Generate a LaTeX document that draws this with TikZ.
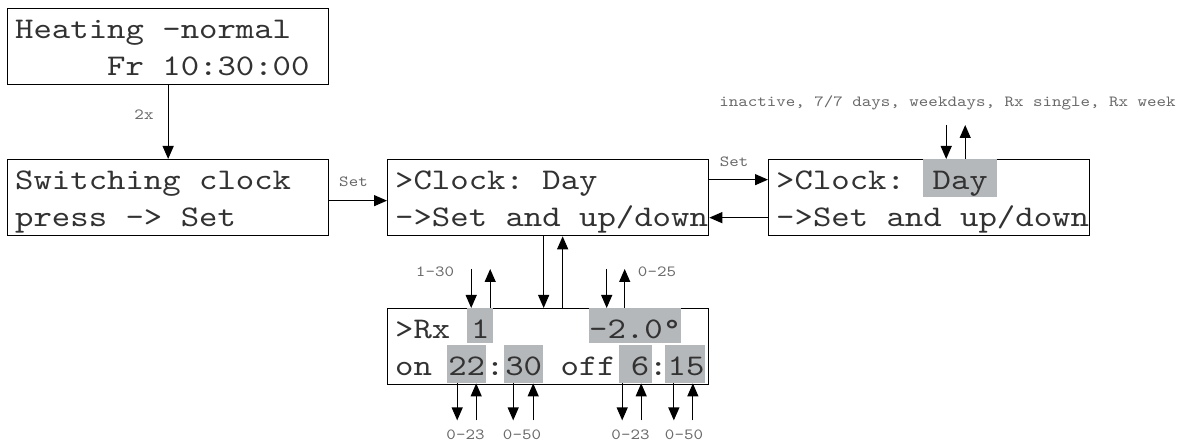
\documentclass[tikz,border=0pt]{standalone}
\usepackage{fontspec}
\usepackage{tikz}
\usetikzlibrary{arrows.meta,positioning}
\newfontfamily\lcdfam{lmmono10-regular.otf}[FakeStretch=1.168]
\newcommand\lcdfont{\lcdfam\fontsize{30}{36}\selectfont}
\newcommand\lblfont{\lcdfam\fontsize{15.5}{18}\selectfont}
\definecolor{hlgray}{RGB}{181,184,186}
\definecolor{lcdtext}{RGB}{50,50,50}
\definecolor{lblgray}{RGB}{105,105,105}

\begin{document}
\begin{tikzpicture}[
  x=1pt, y=1pt,
  lcdbox/.style={draw=black,line width=1.3pt,minimum width=321pt,minimum height=76pt,inner sep=0pt,anchor=north west},
  txt/.style={font=\lcdfont,text=lcdtext,inner sep=0pt,anchor=base west},
  field/.style={fill=hlgray,font=\lcdfont,text=lcdtext,inner sep=0pt,anchor=north west},
  lbl/.style={font=\lblfont,text=lblgray,inner sep=1pt},
  arr/.style={-{Triangle[length=13pt,width=11pt]},line width=1.2pt}
]
\useasboundingbox (0,0) rectangle (1186,-446);

% display boxes
\node[lcdbox] (lcd1) at (7,-8) {};
\node[lcdbox] (lcd2) at (7,-159) {};
\node[lcdbox] (menu) at (387,-159) {};
\node[lcdbox] (mode) at (768,-159) {};
\node[lcdbox] (rx) at (387,-308) {};

% highlighted fields
\node[field,minimum width=74pt,text height=30.5pt,text depth=7.5pt] (fday) at ([xshift=155pt]mode.north west) {Day};
\node[field,minimum width=26pt,text height=30pt,text depth=5pt] (fcyc) at (467,-308) {1};
\node[field,minimum width=91pt,text height=30pt,text depth=5pt] (ftemp) at (589,-308) {-2.0\textdegree};
\node[field,minimum width=39pt,text height=30.5pt,text depth=7.5pt] (fonh) at (447,-345) {22};
\node[field,minimum width=39pt,text height=30.5pt,text depth=7.5pt] (fonm) at (504,-345) {30};
\node[field,text width=33pt,align=right,text height=30.5pt,text depth=7.5pt] (foffh) at (619,-345) {6\hspace*{3pt}};
\node[field,minimum width=39pt,text height=30.5pt,text depth=7.5pt] (foffm) at (665,-345) {\hspace*{2.5pt}15};

% display texts
\node[txt] (t11) at ([xshift=8pt,yshift=-30.5pt]lcd1.north west) {Heating~-normal};
\node[txt] (t12) at ([xshift=8pt,yshift=-68pt]lcd1.north west) {~~~~~Fr~10:30:00};
\node[txt] (t21) at ([xshift=8pt,yshift=-30.5pt]lcd2.north west) {Switching~clock};
\node[txt] (t22) at ([xshift=8pt,yshift=-68pt]lcd2.north west) {press~->~Set};
\node[txt] (t31) at ([xshift=8pt,yshift=-30.5pt]menu.north west) {>Clock:~Day};
\node[txt] (t32) at ([xshift=8pt,yshift=-68pt]menu.north west) {->Set~and~up/down};
\node[txt] (t41) at ([xshift=8pt,yshift=-30.5pt]mode.north west) {>Clock:};
\node[txt] (t42) at ([xshift=8pt,yshift=-68pt]mode.north west) {->Set~and~up/down};
\node[txt] (t51) at ([xshift=8pt,yshift=-30pt]rx.north west) {>Rx};
\node[txt] (t52) at ([xshift=8pt,yshift=-67.5pt]rx.north west) {on};
\node[txt,anchor=base] (c1) at (495,-375.5) {:};
\node[txt] (t53) at (560.5,-375.5) {off};
\node[txt,anchor=base] (c2) at (658.3,-375.5) {:};

% transitions
\draw[arr] (lcd1.south) -- (lcd2.north);
\draw[arr] ([yshift=-3pt]lcd2.east) -- ([yshift=-3pt]menu.west);
\draw[arr] ([yshift=18pt]menu.east) -- ([yshift=18pt]mode.west);
\draw[arr] ([yshift=-20pt]mode.west) -- ([yshift=-20pt]menu.east);
\draw[arr] ([xshift=-4.5pt]menu.south) -- ([xshift=-4.5pt]rx.north);
\draw[arr] ([xshift=14.5pt]rx.north) -- ([xshift=14.5pt]menu.south);

% up/down keys
\foreach \fld/\dx/\ux/\len in {fcyc/-9/10/39, ftemp/-28.5/-10.5/39, fday/-14/5/34}{
  \coordinate (\fld-dn) at ([xshift=\dx pt,yshift=\len pt]\fld.north);
  \coordinate (\fld-up) at ([xshift=\ux pt,yshift=\len pt]\fld.north);
  \draw[arr] (\fld-dn) -- (\fld-dn |- \fld.north);
  \draw[arr] (\fld-up |- \fld.north) -- (\fld-up);
}
\foreach \fld/\dx/\ux in {fonh/-9.5/9.5, fonm/-10.5/9.5, foffh/-13.5/5.5, foffm/-11/8}{
  \coordinate (\fld-dn) at ([xshift=\dx pt,yshift=-37pt]\fld.south);
  \coordinate (\fld-up) at ([xshift=\ux pt,yshift=-37pt]\fld.south);
  \draw[arr] (\fld-dn |- \fld.south) -- (\fld-dn);
  \draw[arr] (\fld-up) -- (\fld-up |- \fld.south);
}

% labels
\node[lbl] (l2x) at (144,-115) {2x};
\node[lbl] (lset1) at (353.5,-182) {Set};
\node[lbl] (lset2) at (734,-162) {Set};
\node[lbl] (lmodes) at (947.5,-103) {inactive, 7/7 days, weekdays, Rx single, Rx week};
\node[lbl] (lcyc) at (435,-272) {1-30};
\node[lbl] (ltemp) at (657,-272) {0-25};
\node[lbl] (lonh) at (465.5,-435) {0-23};
\node[lbl] (lonm) at (522,-435) {0-50};
\node[lbl] (loffh) at (630.5,-435) {0-23};
\node[lbl] (loffm) at (684,-435) {0-50};
\end{tikzpicture}
\end{document}
